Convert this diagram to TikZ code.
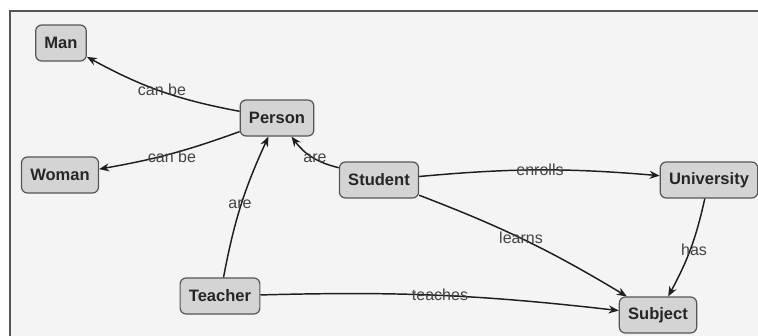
\documentclass[tikz,border=0pt]{standalone}
\usepackage{fontspec}
\setmainfont{Liberation Sans}
\usetikzlibrary{arrows.meta}
\definecolor{bgc}{HTML}{F4F4F4}
\definecolor{nodefill}{HTML}{D4D4D4}
\definecolor{nodeborder}{HTML}{555555}
\definecolor{nodetext}{HTML}{262626}
\definecolor{edgec}{HTML}{1E1E1E}
\definecolor{labc}{HTML}{444444}
\tikzset{
  concept/.style={draw=nodeborder, fill=nodefill, rounded corners=4.5pt, line width=0.9pt,
    inner xsep=6.6pt, inner ysep=0pt, minimum height=27pt,
    font=\fontsize{12.4}{14}\selectfont\bfseries, text=nodetext},
  rel/.style={draw=edgec, line width=1.1pt, -{Stealth[length=7.5pt,width=6pt]}},
  lab/.style={font=\fontsize{12}{14}\selectfont, text=labc, inner sep=0pt}
}
\begin{document}
\begin{tikzpicture}[x=0.75pt, y=-0.75pt]
\useasboundingbox (0,0) rectangle (758,336);
\fill[white] (0,0) rectangle (758,336);
\fill[bgc] (10,11) rectangle (758,336);
\draw[nodeborder, line width=1.3pt] (10,336) -- (10,11) -- (758,11);

\node[concept] (man) at (61,43) {Man};
\node[concept] (person) at (277,118) {Person};
\node[concept] (woman) at (60,175) {Woman};
\node[concept] (student) at (379,180) {Student};
\node[concept] (univ) at (709,180) {University};
\node[concept] (teacher) at (220,296) {Teacher};
\node[concept] (subject) at (658,315) {Subject};

\draw[rel] (person) to[bend left=9] (man);
\draw[rel] (person.200) to[bend left=5] (woman);
\draw[rel] (student.163) to[bend left=20] (person.-52);
\draw[rel] (teacher) to[bend left=7] (person);
\draw[rel] (student) to[bend left=5] (univ);
\draw[rel] (student) to[bend left=5] (subject);
\draw[rel] (univ) to[bend left=8] (subject);
\draw[rel] (teacher) to[bend left=4] (subject);

\node[lab] (l1) at (162,90) {can be};
\node[lab] (l2) at (172,157) {can be};
\node[lab] (l3) at (315,158) {are};
\node[lab] (l4) at (240,204) {are};
\node[lab] (l5) at (540,170) {enrolls};
\node[lab] (l6) at (521,238) {learns};
\node[lab] (l7) at (694,250) {has};
\node[lab] (l8) at (440,295) {teaches};
\end{tikzpicture}
\end{document}
